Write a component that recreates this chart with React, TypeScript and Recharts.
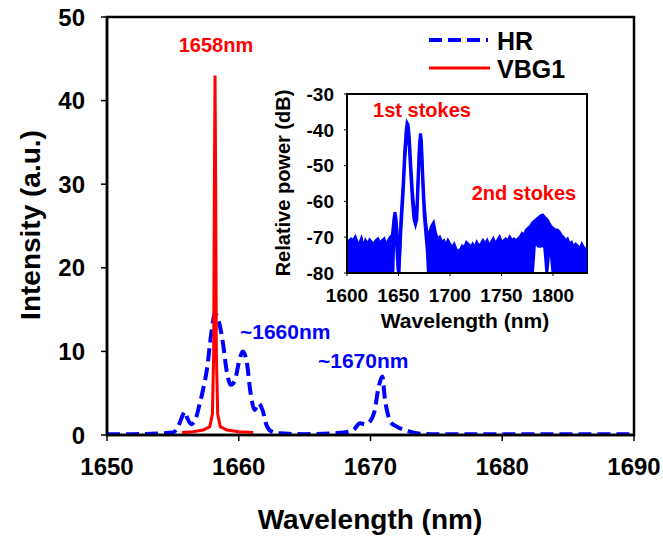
import React from "react";
import {
  ComposedChart,
  Line,
  Area,
  XAxis,
  YAxis,
  ReferenceArea,
} from "recharts";

// main spectrum: HR (dashed) and VBG1 (solid)
const hrWl = [
  1650, 1652, 1654, 1655, 1655.4, 1655.7, 1655.9, 1656.1, 1656.4, 1656.7,
  1657.0, 1657.3, 1657.6, 1657.9, 1658.2, 1658.5, 1658.8, 1659.1, 1659.4,
  1659.7, 1660.0, 1660.3, 1660.6, 1660.9, 1661.2, 1661.5, 1661.8, 1662.1,
  1662.5, 1663, 1665, 1667, 1668, 1668.7, 1669.2, 1669.6, 1670.0, 1670.3,
  1670.6, 1670.9, 1671.1, 1671.3, 1671.5, 1672, 1672.8, 1673.5, 1675, 1680,
  1685, 1690,
];
const hrVal = [
  0.1, 0.1, 0.2, 0.3, 1.0, 2.2, 2.8, 2.0, 1.3, 1.8,
  3.5, 5.5, 8.0, 12.0, 14.5, 13.5, 11.0, 7.5, 6.0,
  6.5, 8.6, 10.0, 8.8, 5.0, 3.0, 3.8, 3.0, 1.2,
  0.4, 0.2, 0.1, 0.2, 0.3, 0.6, 1.4, 1.3, 1.7, 2.8,
  5.6, 7.0, 4.2, 2.6, 1.6, 1.0, 0.5, 0.2, 0.1, 0.1,
  0.1, 0.1,
];

const vbgWl = [
  1655.7, 1656.5, 1657.3, 1657.8, 1658.0, 1658.1, 1658.15, 1658.2, 1658.25,
  1658.3, 1658.4, 1658.6, 1659.1, 1660, 1661.1,
];
const vbgVal = [
  0.3, 0.4, 0.6, 1.0, 2.5, 10, 30, 43, 30,
  10, 2.5, 1.0, 0.6, 0.4, 0.3,
];

const mainXTicks = [1650, 1660, 1670, 1680, 1690];
const mainYTicks = [0, 10, 20, 30, 40, 50];

// inset: relative power (dB), drawn as a band [low, high]
const insetWl = [
  1600, 1602, 1604, 1606, 1608, 1610, 1612, 1614, 1616, 1618, 1620, 1622,
  1624, 1626, 1628, 1630, 1632, 1634, 1636, 1638, 1640, 1642, 1644,
  1644.5, 1645.5, 1646.5, 1647.5, 1648.5, 1649.5, 1650.3, 1651.3, 1652.2,
  1653, 1654.5, 1656, 1657.3, 1658.3, 1659.3, 1660.5, 1662, 1663.5, 1665,
  1666.5, 1667.8, 1669, 1670.3, 1671.3, 1672.3, 1673.5, 1675, 1676.5, 1678,
  1679,
  1680, 1682, 1684, 1686, 1688, 1690, 1692, 1694, 1696, 1698, 1700, 1702,
  1704, 1706, 1708, 1710, 1712, 1714, 1716, 1718, 1720, 1722, 1724, 1726,
  1728, 1730, 1732, 1734, 1736, 1738, 1740, 1742, 1744, 1746, 1748, 1750,
  1752, 1754, 1756, 1758, 1760, 1762, 1764, 1766, 1768, 1770, 1772, 1774,
  1776, 1778, 1780,
  1782, 1784, 1786, 1788, 1790, 1792, 1794, 1796, 1798, 1800,
  1802, 1804, 1806, 1808, 1810, 1812, 1814, 1816, 1818, 1820, 1822, 1824,
  1826, 1828, 1830, 1833,
];
const insetHi = [
  -73, -71, -70.5, -71, -70, -71.5, -72, -70.5, -73, -71, -72, -70.8,
  -71.5, -72, -71, -70.5, -71.8, -71, -70.5, -72.5, -71, -70, -69.5,
  -68, -65, -63, -64.5, -68, -74, -80, -72, -66,
  -62, -55, -46, -40.5, -38, -38.5, -42, -50, -57, -62,
  -64.5, -62, -53, -44, -41, -43, -52, -61, -66, -69.5,
  -70,
  -69, -67, -66, -69, -70.5, -70, -71.5, -71, -72.5, -71, -72, -73,
  -72, -73.5, -74, -73.5, -72.5, -73, -71.5, -72, -73, -72, -73, -71.5,
  -72.5, -72, -71, -72, -71, -72.5, -71.5, -70.5, -72, -71, -70, -71.5,
  -71, -70.5, -71, -70, -71, -70.5, -71, -70.5, -70, -69, -69.5, -68,
  -67.5, -67, -66,
  -65.5, -65, -64.5, -64, -63.8, -64.5, -65, -66, -67, -67.5,
  -68, -68, -68.5, -69.5, -70, -71, -70.5, -72, -71.5, -73, -72, -72.5,
  -73.5, -72, -73, -73.5,
];
const insetLo = [
  -80, -80, -80, -80, -80, -80, -80, -80, -80, -80, -80, -80,
  -80, -80, -80, -80, -80, -80, -80, -80, -80, -80, -80,
  -80, -70, -66, -68, -74, -79, -80, -75, -69,
  -65, -58, -49, -43.5, -41, -41.5, -45, -53, -60, -65,
  -66.5, -65, -56, -47, -44, -46, -55, -64, -69, -74,
  -80,
  -80, -80, -80, -80, -80, -80, -80, -80, -80, -80, -80, -80,
  -80, -80, -80, -80, -80, -80, -80, -80, -80, -80, -80, -80,
  -80, -80, -80, -80, -80, -80, -80, -80, -80, -80, -80, -80,
  -80, -80, -80, -80, -80, -80, -80, -80, -80, -80, -80, -80,
  -80, -80, -80,
  -72, -72, -72.5, -72.5, -72, -73, -80, -74, -74, -80,
  -80, -80, -80, -80, -80, -80, -80, -80, -80, -80, -80, -80,
  -80, -80, -80, -80,
];

const insetXTicks = [1600, 1650, 1700, 1750, 1800];
const insetYTicks = [-80, -70, -60, -50, -40, -30];

const hrData = hrWl.map((wl, i) => ({ wl, v: hrVal[i] }));
const vbgData = vbgWl.map((wl, i) => ({ wl, v: vbgVal[i] }));
const insetData = insetWl.map((wl, i) => ({ wl, band: [insetLo[i], insetHi[i]] }));

const FONT = "'Liberation Sans', Arial, sans-serif";

export default function App() {
  const mainTick = { fontSize: 24, fontWeight: "bold", fill: "#000", fontFamily: FONT };
  const insetTick = { fontSize: 19, fontWeight: "bold", fill: "#000", fontFamily: FONT };

  return (
    <div style={{ position: "absolute", left: 0, top: 0, width: 663, height: 540, background: "#fff" }}>
      <ComposedChart width={663} height={540} margin={{ top: 17, right: 29, left: 0, bottom: 0 }}>
        <XAxis
          dataKey="wl"
          type="number"
          domain={[1650, 1690]}
          ticks={mainXTicks}
          allowDataOverflow
          height={105}
          tick={mainTick}
          tickSize={6}
          tickMargin={17}
          axisLine={{ stroke: "#000", strokeWidth: 2.5 }}
          tickLine={{ stroke: "#000", strokeWidth: 1.5 }}
        />
        <YAxis
          type="number"
          domain={[0, 50]}
          ticks={mainYTicks}
          allowDataOverflow
          width={107}
          tick={mainTick}
          tickSize={6}
          tickMargin={16}
          axisLine={{ stroke: "#000", strokeWidth: 2.5 }}
          tickLine={{ stroke: "#000", strokeWidth: 1.5 }}
        />
        <ReferenceArea x1={1650} x2={1690} y1={0} y2={50} fill="none" stroke="#000" strokeWidth={2.5} />
        <Line
          data={hrData}
          dataKey="v"
          name="HR"
          type="monotone"
          stroke="#0000FF"
          strokeWidth={4}
          strokeDasharray="13 6"
          dot={false}
          isAnimationActive={false}
        />
        <Line
          data={vbgData}
          dataKey="v"
          name="VBG1"
          type="linear"
          stroke="#FF0000"
          strokeWidth={3}
          dot={false}
          isAnimationActive={false}
        />
      </ComposedChart>

      <svg
        width={663}
        height={540}
        style={{ position: "absolute", left: 0, top: 0, pointerEvents: "none" }}
        fontFamily={FONT}
        fontWeight="bold"
      >
        {/* legend */}
        <line x1={429} y1={40} x2={488} y2={40} stroke="#0000FF" strokeWidth={4} strokeDasharray="13 6" />
        <text x={497} y={41} dominantBaseline="central" fontSize={25}>
          HR
        </text>
        <line x1={429} y1={68} x2={490} y2={68} stroke="#FF0000" strokeWidth={3} />
        <text x={497} y={69} dominantBaseline="central" fontSize={25}>
          VBG1
        </text>

        <text x={370} y={519} textAnchor="middle" dominantBaseline="central" fontSize={28}>
          Wavelength (nm)
        </text>
        <text
          x={30}
          y={225}
          textAnchor="middle"
          dominantBaseline="central"
          fontSize={28}
          transform="rotate(-90 30 225)"
        >
          Intensity (a.u.)
        </text>
        <text x={216} y={45} textAnchor="middle" dominantBaseline="central" fontSize={20} fill="#FF0000">
          1658nm
        </text>
        <text x={240} y={331} dominantBaseline="central" fontSize={21} fill="#0000FF">
          ~1660nm
        </text>
        <text x={318} y={360} dominantBaseline="central" fontSize={21} fill="#0000FF">
          ~1670nm
        </text>
      </svg>

      <div style={{ position: "absolute", left: 260, top: 80 }}>
        <ComposedChart width={340} height={260} data={insetData} margin={{ top: 14, right: 13, left: 0, bottom: 0 }}>
          <XAxis
            dataKey="wl"
            type="number"
            domain={[1600, 1833]}
            ticks={insetXTicks}
            allowDataOverflow
            height={67}
            tick={insetTick}
            tickSize={3}
            tickMargin={13}
            axisLine={{ stroke: "#000", strokeWidth: 2 }}
            tickLine={{ stroke: "#000", strokeWidth: 1 }}
          />
          <YAxis
            type="number"
            domain={[-80, -30]}
            ticks={insetYTicks}
            allowDataOverflow
            width={87}
            tick={insetTick}
            tickSize={3}
            tickMargin={10}
            axisLine={{ stroke: "#000", strokeWidth: 2 }}
            tickLine={{ stroke: "#000", strokeWidth: 1 }}
          />
          <ReferenceArea x1={1600} x2={1833} y1={-80} y2={-30} fill="#fff" stroke="#000" strokeWidth={2} />
          <Area
            dataKey="band"
            type="linear"
            stroke="#0000FF"
            strokeWidth={3}
            fill="#0000FF"
            fillOpacity={1}
            isAnimationActive={false}
          />
        </ComposedChart>
        <svg
          width={340}
          height={260}
          style={{ position: "absolute", left: 0, top: 0, pointerEvents: "none" }}
          fontFamily={FONT}
          fontWeight="bold"
        >
          <text x={205} y={240} textAnchor="middle" dominantBaseline="central" fontSize={21}>
            Wavelength (nm)
          </text>
          <text
            x={23}
            y={103}
            textAnchor="middle"
            dominantBaseline="central"
            fontSize={20}
            transform="rotate(-90 23 103)"
          >
            Relative power (dB)
          </text>
          <text x={162} y={30} textAnchor="middle" dominantBaseline="central" fontSize={20} fill="#FF0000">
            1st stokes
          </text>
          <text x={264} y={113} textAnchor="middle" dominantBaseline="central" fontSize={20} fill="#FF0000">
            2nd stokes
          </text>
        </svg>
      </div>
    </div>
  );
}
